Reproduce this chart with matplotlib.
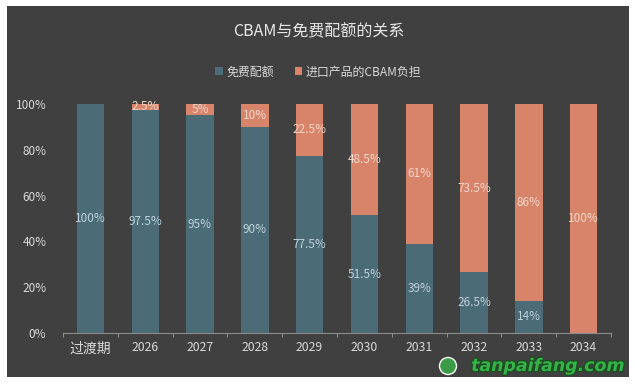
import matplotlib
matplotlib.use("Agg")
import matplotlib.pyplot as plt
from matplotlib.patches import Rectangle, Circle
import matplotlib.patheffects as pe

plt.rcParams['font.family'] = ['Noto Sans CJK SC', 'DejaVu Sans']

categories = ["过渡期", "2026", "2027", "2028", "2029", "2030", "2031", "2032", "2033", "2034"]
free_alloc = [100, 97.5, 95, 90, 77.5, 51.5, 39, 26.5, 14, 0]
cbam_burden = [0, 2.5, 5, 10, 22.5, 48.5, 61, 73.5, 86, 100]
title = "CBAM与免费配额的关系"
series_names = ["免费配额", "进口产品的CBAM负担"]
yticks = [0, 20, 40, 60, 80, 100]

BG = "#404040"
TEAL = "#4b6b77"
SALMON = "#d8846b"
TEAL_TXT = "#bcd2dc"
SALMON_TXT = "#f6d6c8"
TXT = "#d9d9d9"

fig = plt.figure(figsize=(6.37, 3.87), dpi=100, facecolor="white")
fig.add_artist(Rectangle((7/637, 10/387), 622/637, 371/387, transform=fig.transFigure,
                         facecolor=BG, edgecolor="none", zorder=0))

ax = fig.add_axes([63/637, 54/387, 548/637, 229/387])
ax.set_facecolor("none")
x = list(range(len(categories)))
w = 0.5
b1 = ax.bar(x, free_alloc, width=w, color=TEAL, label=series_names[0], zorder=2)
b2 = ax.bar(x, cbam_burden, width=w, bottom=free_alloc, color=SALMON, label=series_names[1], zorder=2)

def fmt(v):
    return (f"{v:g}") + "%"

for i in x:
    if free_alloc[i] > 0:
        ax.text(i, free_alloc[i] / 2, fmt(free_alloc[i]), ha="center", va="center",
                color=TEAL_TXT, fontsize=8.5, zorder=3)
    if cbam_burden[i] > 0:
        ax.text(i, free_alloc[i] + cbam_burden[i] / 2, fmt(cbam_burden[i]), ha="center",
                va="center", color=SALMON_TXT, fontsize=8.5, zorder=3)

ax.set_xlim(-0.5, len(categories) - 0.5)
ax.set_ylim(0, 100)
ax.set_yticks(yticks)
ax.set_yticklabels([f"{v}%" for v in yticks], color=TXT, fontsize=8.5)
ax.tick_params(axis="y", length=0, pad=12)
ax.set_xticks(x)
ax.set_xticklabels(categories, color=TXT, fontsize=8.8)
ax.get_xticklabels()[0].set_fontsize(10)
ax.tick_params(axis="x", which="major", length=0, pad=6)
ax.set_xticks([i - 0.5 for i in range(len(categories) + 1)], minor=True)
ax.tick_params(axis="x", which="minor", length=3, color="#8c8c8c", width=0.8)
for s in ["top", "right", "left"]:
    ax.spines[s].set_visible(False)
ax.spines["bottom"].set_color("#8c8c8c")
ax.spines["bottom"].set_linewidth(0.8)

fig.text(0.5, 1 - 32/387, title, ha="center", va="center", color="#e8e8e8", fontsize=11.5)
leg = fig.legend(handles=[b1, b2], labels=series_names, loc="center",
                 bbox_to_anchor=(0.5, 1 - 72/387), ncol=2, frameon=False,
                 handlelength=0.6, handleheight=0.6, handletextpad=0.3,
                 columnspacing=1.8, fontsize=8.6)
for t in leg.get_texts():
    t.set_color(TXT)

# watermark
fig.text(548/637, 1 - 366/387, "tanpaifang.com", ha="center", va="center",
         color="#35b34a", fontsize=12.5, fontweight="heavy", family="DejaVu Sans",
         style="italic",
         path_effects=[pe.withStroke(linewidth=2, foreground="#1f4d22")], zorder=5)
fig.add_artist(Circle((4.48, 0.21), 0.085, transform=fig.dpi_scale_trans,
                      facecolor="#3a9a45", edgecolor="#ffffff", linewidth=1, zorder=5))

fig.savefig("out.png", dpi=100, facecolor="white")
